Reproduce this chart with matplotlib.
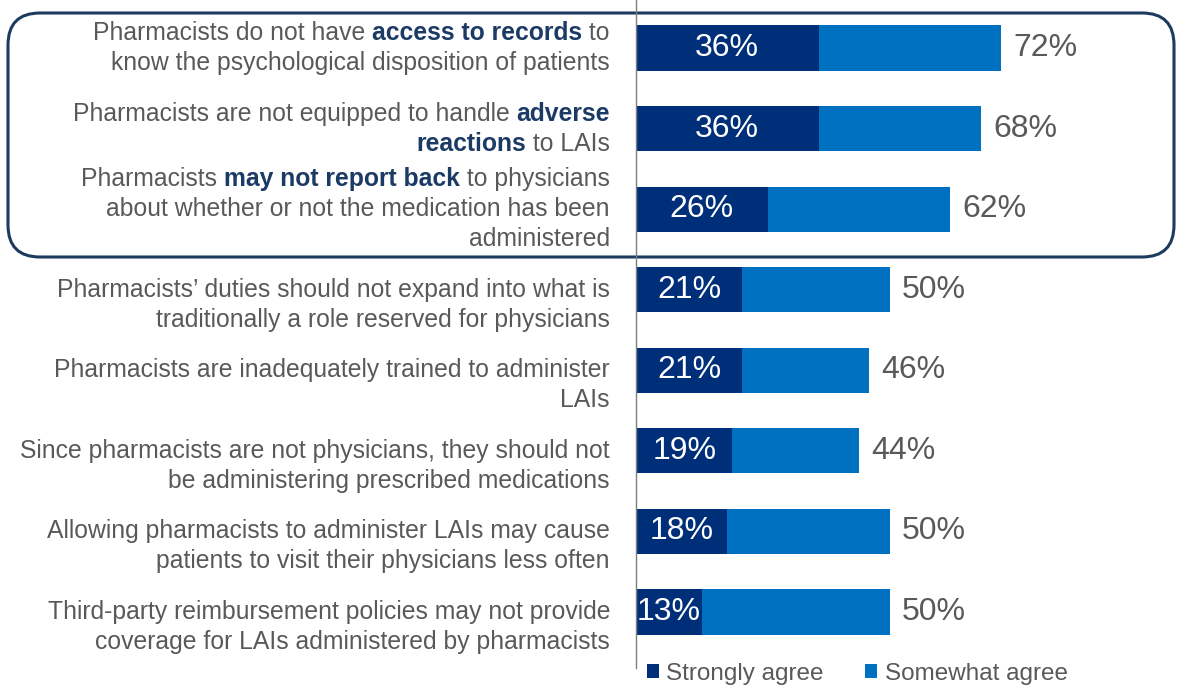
import matplotlib
matplotlib.use("Agg")
import matplotlib.pyplot as plt
from matplotlib.patches import FancyBboxPatch, Patch
from matplotlib.transforms import IdentityTransform

plt.rcParams['font.family'] = ['Liberation Sans', 'DejaVu Sans']

# Survey statements, split into lines; each line is a list of (text, bold) pieces
labels = [
    [[("Pharmacists do not have ", False), ("access to records", True), (" to", False)],
     [("know the psychological disposition of patients", False)]],
    [[("Pharmacists are not equipped to handle ", False), ("adverse", True)],
     [("reactions", True), (" to LAIs", False)]],
    [[("Pharmacists ", False), ("may not report back", True), (" to physicians", False)],
     [("about whether or not the medication has been", False)],
     [("administered", False)]],
    [[("Pharmacists\u2019 duties should not expand into what is", False)],
     [("traditionally a role reserved for physicians", False)]],
    [[("Pharmacists are inadequately trained to administer", False)],
     [("LAIs", False)]],
    [[("Since pharmacists are not physicians, they should not", False)],
     [("be administering prescribed medications", False)]],
    [[("Allowing pharmacists to administer LAIs may cause", False)],
     [("patients to visit their physicians less often", False)]],
    [[("Third-party reimbursement policies may not provide", False)],
     [("coverage for LAIs administered by pharmacists", False)]],
]
strongly = [36, 36, 26, 21, 21, 19, 18, 13]
total = [72, 68, 62, 50, 46, 44, 50, 50]
somewhat = [t - s for t, s in zip(total, strongly)]

DARK = '#002f7a'
LIGHT = '#0070c0'
GREY = '#595959'
NAVY = '#1b3a66'
LABEL_SIZE = 17.8

W, H = 1177, 686
fig = plt.figure(figsize=(W / 100, H / 100), dpi=100)
fig.patch.set_facecolor('white')

# bar axes: left spine at x=636 px, runs from top down to ~668 px
ax = fig.add_axes([636 / W, (H - 668) / H, (1170 - 636) / W, 668 / H])
ypos = list(range(len(strongly)))
ax.barh(ypos, strongly, height=0.56, color=DARK)
ax.barh(ypos, somewhat, left=strongly, height=0.56, color=LIGHT)
ax.set_xlim(0, (1170 - 636) / 5.07)
ax.set_ylim((668 - 48) / 80.57, -48 / 80.57)
for sp in ['top', 'right', 'bottom']:
    ax.spines[sp].set_visible(False)
ax.spines['left'].set_color('#7f7f7f')
ax.spines['left'].set_linewidth(1)
ax.set_xticks([])
ax.set_yticks([])
ax.patch.set_alpha(0)

for i, (s, t) in enumerate(zip(strongly, total)):
    ax.text(s / 2, i, f"{s}%", color='white', fontsize=23, ha='center', va='center')
    ax.text(t + 2.4, i, f"{t}%", color=GREY, fontsize=23, ha='left', va='center')

# statement labels, right aligned, drawn piece by piece for bold highlights
fig.canvas.draw()
renderer = fig.canvas.get_renderer()


def piece_width(txt, bold):
    prop = matplotlib.font_manager.FontProperties(
        family=['Liberation Sans'], size=LABEL_SIZE, weight='bold' if bold else 'normal')
    w1 = renderer.get_text_width_height_descent("x" + txt + "x", prop, ismath=False)[0]
    w0 = renderer.get_text_width_height_descent("xx", prop, ismath=False)[0]
    return w1 - w0


LINE = 30
X_RIGHT = 610
for i, lines in enumerate(labels):
    _, yc = ax.transData.transform((0, i))
    shift = 0 if i < 3 else -15
    n = len(lines)
    for j, pieces in enumerate(lines):
        y = yc + shift - (j - (n - 1) / 2) * LINE
        x = X_RIGHT
        for txt, bold in reversed(pieces):
            fig.text(x, y, txt, transform=IdentityTransform(), fontsize=LABEL_SIZE,
                     ha='right', va='center', color=NAVY if bold else GREY,
                     fontweight='bold' if bold else 'normal')
            x -= piece_width(txt, bold)

# rounded frame around the first three statements
ov = fig.add_axes([0, 0, 1, 1], zorder=-1)
ov.set_xlim(0, W)
ov.set_ylim(H, 0)
ov.axis('off')
ov.add_patch(FancyBboxPatch((8, 13), 1166, 244,
                            boxstyle="round,pad=0,rounding_size=32",
                            fill=False, edgecolor='#1d3a5f', linewidth=2.2))

handles = [Patch(facecolor=DARK, label='Strongly agree'),
           Patch(facecolor=LIGHT, label='Somewhat agree')]
fig.legend(handles=handles, loc='center left', bbox_to_anchor=(647 / W, 1 - 674 / H),
           ncol=2, frameon=False, fontsize=17.5, labelcolor=GREY,
           handlelength=0.5, handleheight=0.5, handletextpad=0.3,
           columnspacing=1.7, borderaxespad=0, borderpad=0)

fig.savefig('out.png', dpi=100)
